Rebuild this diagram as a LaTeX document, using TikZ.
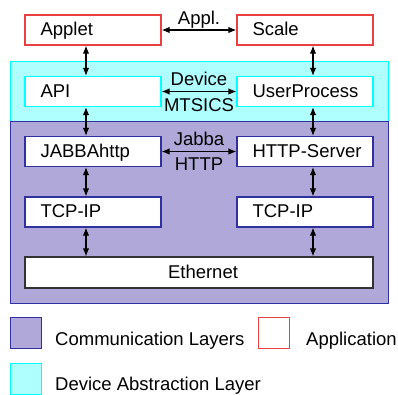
\documentclass[tikz,border=0pt]{standalone}
\usepackage{fontspec}
\setmainfont{Liberation Sans}
\usepackage{xcolor}
\usetikzlibrary{
    arrows.meta,
    calc,
    positioning
}
\definecolor{commfill}{RGB}{176,168,216}
\definecolor{commline}{RGB}{48,48,160}
\definecolor{devfill}{RGB}{176,255,255}
\definecolor{devline}{RGB}{0,255,255}
\definecolor{appline}{RGB}{235,64,64}

\begin{document}
\begin{tikzpicture}[x=1pt, y=-1pt,
    font=\fontsize{18.5}{22}\selectfont,
    modbox/.style={line width=1.2pt, fill=white, minimum height=30pt, text width=121pt,
        inner xsep=7.5pt, inner ysep=0pt, text height=13pt, text depth=2pt, align=left,
        execute at begin node={\hspace*{8pt}}},
    layer/.style={line width=1pt, minimum width=378pt, inner sep=0pt},
    legsq/.style={line width=1pt, minimum size=31pt, inner sep=0pt},
    lbl/.style={inner sep=0pt, text height=13.5pt, text depth=4pt},
    link/.style={{Latex[length=8pt,width=6.5pt]}-{Latex[length=8pt,width=6.5pt]}, line width=1.2pt}]
                        \useasboundingbox (0,0) rectangle (398,394);

                        % layers
                        \node[layer, fill=devfill, draw=devline, minimum height=60pt] (devlayer) at (199, 91) {};
                        \node[layer, fill=commfill, draw=commline, minimum height=182pt] (commlayer) at (199, 212) {};

                        \node[modbox, draw=appline] (applet) at (93, 30) {Applet};
                        \node[modbox, draw=appline] (scale) at (305, 30) {Scale};
                        \node[modbox, draw=devline] (api) at (93, 91.5) {API};
                        \node[modbox, draw=devline] (userproc) at (305, 91.5) {UserProcess};
                        \node[modbox, draw=commline] (jabba) at (93, 151.5) {JABBAhttp};
                        \node[modbox, draw=commline] (server) at (305, 151.5) {HTTP-Server};
                        \node[modbox, draw=commline] (tcpl) at (93, 212) {TCP-IP};
                        \node[modbox, draw=commline] (tcpr) at (305, 212) {TCP-IP};
                        \node[modbox, draw=black!80, text width=333pt, align=center, minimum height=31pt,
                            execute at begin node={}] (ethernet) at (199, 272.5) {Ethernet};

                        \draw
                        (applet) edge[link] node[above=1pt, lbl] {Appl.} (scale)
                        (api) edge[link] node[above=1pt, lbl] {Device} node[below=5.5pt, lbl] {MTSICS} (userproc)
                        (jabba) edge[link] node[above=1pt, lbl] {Jabba} node[below=5pt, lbl] {HTTP} (server);

                        \draw
                        ([xshift=-7pt]applet.south) edge[link] ([xshift=-7pt]api.north)
                        ([xshift=-7pt]api.south) edge[link] ([xshift=-7pt]jabba.north)
                        ([xshift=-7pt]jabba.south) edge[link] ([xshift=-7pt]tcpl.north)
                        ([xshift=-7pt]tcpl.south) edge[link] ([xshift=-7pt]tcpl.south |- ethernet.north)
                        ([xshift=8pt]scale.south) edge[link] ([xshift=8pt]userproc.north)
                        ([xshift=8pt]userproc.south) edge[link] ([xshift=8pt]server.north)
                        ([xshift=8pt]server.south) edge[link] ([xshift=8pt]tcpr.north)
                        ([xshift=8pt]tcpr.south) edge[link] ([xshift=8pt]tcpr.south |- ethernet.north);

                        % legend
                        \node[legsq, fill=commfill, draw=commline] (legcomm) at (25.5, 332.5) {};
                        \node[anchor=base west, inner sep=0pt] (legcommtxt) at (55, 345.7) {Communication Layers};
                        \node[legsq, fill=white, draw=appline] (legapp) at (273.5, 332.5) {};
                        \node[anchor=base west, inner sep=0pt] (legapptxt) at (306, 345.7) {Application};
                        \node[legsq, fill=devfill, draw=devline] (legdev) at (25.5, 378.5) {};
                        \node[anchor=base west, inner sep=0pt] (legdevtxt) at (55, 390.7) {Device Abstraction Layer};
                    \end{tikzpicture}
\end{document}
